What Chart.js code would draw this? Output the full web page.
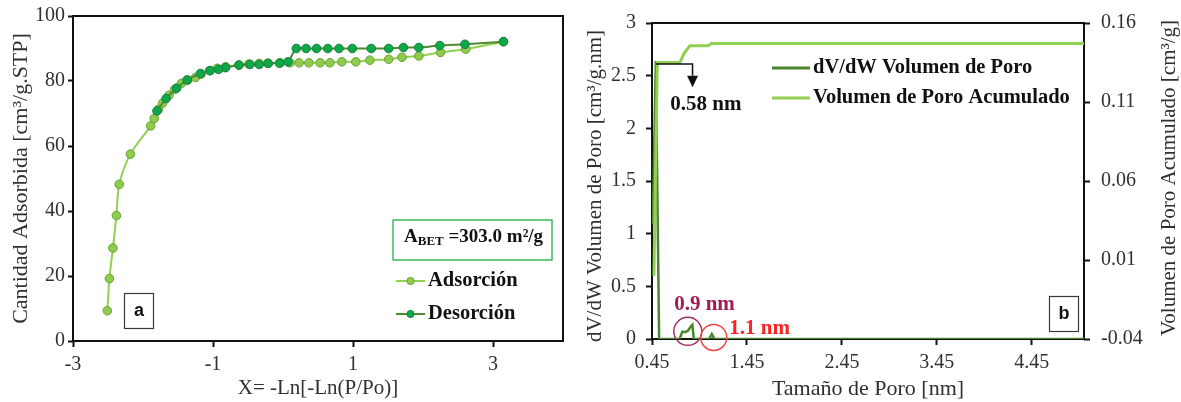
<!DOCTYPE html>
<html>
<head>
<meta charset="utf-8">
<script src="https://cdn.jsdelivr.net/npm/chart.js@4.4.1/dist/chart.umd.min.js"></script>
<style>
  html, body { margin: 0; padding: 0; background: #fff; }
  #wrap { position: relative; width: 1181px; height: 402px; overflow: hidden; }
  #isoWrap { position: absolute; left: 0; top: 0; }
  #psdWrap { position: absolute; left: 580px; top: 0; }
  canvas { display: block; }
</style>
</head>
<body>
<div id="wrap">
  <div id="isoWrap"><canvas id="iso" width="580" height="402"></canvas></div>
  <div id="psdWrap"><canvas id="psd" width="601" height="402"></canvas></div>
</div>
<script>
// ---- (a) N2 isotherm, X = -Ln[-Ln(P/Po)] ----
const adsX = [-2.51, -2.48, -2.43, -2.38, -2.34, -2.18, -1.89, -1.84, -1.78, -1.72, -1.63, -1.55, -1.45,
              -1.36, -1.25, -1.17, -1.05, -0.94, -0.82, -0.63, -0.49, -0.34, -0.22, -0.04, 0.10, 0.23,
              0.37, 0.53, 0.67, 0.84, 1.04, 1.24, 1.51, 1.70, 1.94, 2.25, 2.61, 3.15];
const adsY = [9.3, 19.2, 28.6, 38.6, 48.2, 57.5, 66.2, 68.5, 71.3, 73.2, 75.6, 77.4, 79.3,
              80.3, 81.1, 82.1, 83.2, 83.9, 84.4, 84.9, 85.2, 85.4, 85.5, 85.6, 85.6, 85.6,
              85.6, 85.6, 85.6, 85.9, 85.9, 86.4, 86.7, 87.3, 87.7, 88.8, 89.8, 92.1];
const desX = [3.15, 2.60, 2.24, 1.94, 1.72, 1.51, 1.26, 0.99, 0.80, 0.64, 0.48, 0.33, 0.19, 0.07,
              -0.05, -0.21, -0.34, -0.47, -0.63, -0.82, -0.92, -1.04, -1.18, -1.37, -1.52, -1.67, -1.80];
const desY = [92.1, 91.3, 90.9, 90.3, 90.3, 90.0, 90.0, 90.0, 90.0, 90.0, 90.0, 90.0, 90.0, 85.9,
              85.5, 85.4, 85.1, 85.1, 84.9, 84.1, 83.6, 83.2, 82.3, 80.3, 77.8, 74.6, 70.8];
const isoXTicks = [-3, -1, 1, 3];
const isoYTicks = [0, 20, 40, 60, 80, 100];
const betArea = '303.0';

// ---- (b) pore size distribution ----
const dvX = [0.46, 0.462, 0.49, 0.525, 0.74, 0.77, 0.80, 0.83, 0.86, 0.875, 0.89, 1.05, 1.08, 1.11, 5.0];
const dvY = [1.09, 1.28, 2.64, 0.0, 0.0, 0.07, 0.065, 0.08, 0.12, 0.134, 0.0, 0.0, 0.047, 0.0, 0.0];
const cumX = [0.47, 0.506, 0.744, 0.79, 0.849, 1.04, 1.077, 5.0];
const cumY = [0.0, 0.135, 0.135, 0.141, 0.1456, 0.1456, 0.147, 0.147];
const psdXTicks = [0.45, 1.45, 2.45, 3.45, 4.45];
const psdYTicks = [0, 0.5, 1, 1.5, 2, 2.5, 3];
const psdY2Ticks = [-0.04, 0.01, 0.06, 0.11, 0.16];

const SERIF = '"Liberation Serif", "Times New Roman", serif';
const SANS = '"Liberation Sans", Arial, sans-serif';
const TEXT = '#303030';

const pts = (xs, ys) => xs.map((x, i) => ({ x, y: ys[i] }));

function txt(ctx, s, x, y, o) {
  ctx.save();
  ctx.translate(x, y);
  if (o.rot) ctx.rotate(o.rot);
  ctx.font = o.font;
  ctx.fillStyle = o.color || TEXT;
  ctx.textAlign = o.align || 'center';
  ctx.textBaseline = o.base || 'middle';
  ctx.fillText(s, 0, 0);
  ctx.restore();
}

function labelBox(ctx, s, x, y, w, h) {
  ctx.save();
  ctx.fillStyle = '#fff';
  ctx.fillRect(x, y, w, h);
  ctx.strokeStyle = '#3a3a3a';
  ctx.lineWidth = 1.2;
  ctx.strokeRect(x + 0.5, y + 0.5, w, h);
  ctx.restore();
  txt(ctx, s, x + w / 2 + 0.5, y + h / 2 + 1, { font: 'bold 18px ' + SANS, color: '#111' });
}

// black frame around the plot area, under the data
const framePlugin = {
  id: 'frame',
  beforeDatasetsDraw(chart) {
    const { ctx, chartArea: a } = chart;
    ctx.save();
    ctx.strokeStyle = '#111';
    ctx.lineWidth = 2;
    ctx.strokeRect(a.left, a.top, a.right - a.left, a.bottom - a.top);
    ctx.restore();
  }
};

function fixedTicks(values, pad, fmt) {
  return {
    afterBuildTicks(scale) { scale.ticks = values.map(v => ({ value: v })); },
    ticks: {
      autoSkip: false, maxRotation: 0, color: TEXT, padding: pad,
      font: { family: SERIF, size: 20 },
      callback: fmt || (v => String(v))
    }
  };
}

function axisGrid(len) {
  return { display: true, drawOnChartArea: false, drawTicks: true, tickLength: len, tickWidth: 2, tickColor: '#111' };
}

// ================= chart (a) =================
const isoDecor = {
  id: 'isoDecor',
  afterDraw(chart) {
    const { ctx, chartArea: a } = chart;
    txt(ctx, 'Cantidad Adsorbida [cm³/g.STP]', 21, (a.top + a.bottom) / 2,
        { font: '22px ' + SERIF, rot: -Math.PI / 2 });
    txt(ctx, 'X= -Ln[-Ln(P/Po)]', (a.left + a.right) / 2, 388, { font: '21px ' + SERIF });

    // BET surface area box
    const bx = a.left + 320, by = a.top + 204, bw = 159, bh = 40;
    ctx.save();
    ctx.fillStyle = '#fff';
    ctx.fillRect(bx, by, bw, bh);
    ctx.strokeStyle = '#3CB95A';
    ctx.lineWidth = 1.5;
    ctx.strokeRect(bx, by, bw, bh);
    ctx.fillStyle = '#111';
    ctx.textAlign = 'left';
    ctx.textBaseline = 'alphabetic';
    let x = bx + 11;
    const yb = by + 22;
    ctx.font = 'bold 19px ' + SERIF;
    ctx.fillText('A', x, yb);
    x += ctx.measureText('A').width;
    ctx.font = 'bold 13px ' + SERIF;
    ctx.fillText('BET', x, yb + 3);
    x += ctx.measureText('BET').width;
    ctx.font = 'bold 19px ' + SERIF;
    ctx.fillText(' =' + betArea + ' m²/g', x, yb);
    ctx.restore();

    // legend
    const rowsY = [a.top + 265, a.top + 298];
    [0, 1].forEach((di, k) => {
      const ds = chart.data.datasets[di];
      const y = rowsY[k];
      const x0 = a.left + 323, x1 = a.left + 352;
      ctx.save();
      ctx.strokeStyle = ds.borderColor;
      ctx.lineWidth = 2;
      ctx.beginPath(); ctx.moveTo(x0, y); ctx.lineTo(x1, y); ctx.stroke();
      ctx.beginPath(); ctx.arc((x0 + x1) / 2, y, 3.6, 0, Math.PI * 2);
      ctx.fillStyle = ds.pointBackgroundColor; ctx.fill();
      ctx.strokeStyle = ds.pointBorderColor; ctx.lineWidth = 1; ctx.stroke();
      ctx.restore();
      txt(ctx, ds.label, a.left + 355, y, { font: 'bold 20.5px ' + SERIF, align: 'left', color: '#111' });
    });

    labelBox(ctx, 'a', a.left + 51, a.top + 277, 29, 35);
  }
};

new Chart(document.getElementById('iso'), {
  type: 'line',
  data: {
    datasets: [
      {
        label: 'Adsorción', data: pts(adsX, adsY), order: 1,
        borderColor: '#92D050', borderWidth: 2, tension: 0.3,
        pointRadius: 4.3, pointBackgroundColor: '#8FCB4C', pointBorderColor: '#68A338', pointBorderWidth: 1
      },
      {
        label: 'Desorción', data: pts(desX, desY), order: 0,
        borderColor: '#4E8A2E', borderWidth: 2, tension: 0.3,
        pointRadius: 4.3, pointBackgroundColor: '#0DA84A', pointBorderColor: '#1A7F38', pointBorderWidth: 1
      }
    ]
  },
  options: {
    responsive: false, animation: false, events: [],
    layout: { padding: { left: 0, top: 16, right: 17, bottom: 0 } },
    plugins: { legend: { display: false }, tooltip: { enabled: false } },
    scales: {
      x: Object.assign({
        type: 'linear', min: -3, max: 4,
        grid: axisGrid(6), border: { display: false },
        afterFit(s) { s.height = 61; }
      }, fixedTicks(isoXTicks, 6)),
      y: Object.assign({
        type: 'linear', min: 0, max: 100,
        grid: axisGrid(5), border: { display: false },
        afterFit(s) { s.width = 73; }
      }, fixedTicks(isoYTicks, 3))
    }
  },
  plugins: [framePlugin, isoDecor]
});

// ================= chart (b) =================
const psdDecor = {
  id: 'psdDecor',
  afterDraw(chart) {
    const { ctx, chartArea: a, scales } = chart;
    const px = v => scales.x.getPixelForValue(v);
    const py = v => scales.y.getPixelForValue(v);

    txt(ctx, 'dV/dW Volumen de Poro [cm³/g.nm]', 15, 186, { font: '21px ' + SERIF, rot: -Math.PI / 2 });
    txt(ctx, 'Volumen de Poro Acumulado [cm³/g]', 589, 178, { font: '21px ' + SERIF, rot: -Math.PI / 2 });
    txt(ctx, 'Tamaño de Poro [nm]', (a.left + a.right) / 2, 389, { font: '22px ' + SERIF });

    // legend
    const rowsY = [68, 98];
    chart.data.datasets.forEach((ds, k) => {
      const y = rowsY[k];
      ctx.save();
      ctx.strokeStyle = ds.borderColor;
      ctx.lineWidth = 3;
      ctx.beginPath(); ctx.moveTo(a.left + 120, y); ctx.lineTo(a.left + 158, y); ctx.stroke();
      ctx.restore();
      txt(ctx, ds.label, a.left + 161, y, { font: 'bold 20.5px ' + SERIF, align: 'left', color: '#111' });
    });

    // micropore marker arrow
    ctx.save();
    ctx.strokeStyle = '#111'; ctx.fillStyle = '#111'; ctx.lineWidth = 1.5;
    const ax = px(0.877);
    ctx.beginPath();
    ctx.moveTo(px(0.492), py(2.61)); ctx.lineTo(ax, py(2.61)); ctx.lineTo(ax, py(2.5));
    ctx.stroke();
    ctx.beginPath();
    ctx.moveTo(ax - 5.5, py(2.5)); ctx.lineTo(ax + 5.5, py(2.5)); ctx.lineTo(ax, py(2.39));
    ctx.closePath(); ctx.fill();
    ctx.restore();
    txt(ctx, '0.58 nm', px(1.017), py(2.23), { font: 'bold 21px ' + SERIF, color: '#111' });

    // peak circles and labels
    ctx.save();
    ctx.lineWidth = 1.5;
    ctx.strokeStyle = '#A23062';
    ctx.beginPath(); ctx.arc(px(0.827), py(0.073), 14, 0, Math.PI * 2); ctx.stroke();
    ctx.strokeStyle = '#F04848';
    ctx.beginPath(); ctx.arc(px(1.10), py(0.015), 13, 0, Math.PI * 2); ctx.stroke();
    ctx.restore();
    txt(ctx, '0.9 nm', px(1.003), py(0.33), { font: 'bold 21px ' + SERIF, color: '#9E1C50' });
    txt(ctx, '1.1 nm', px(1.584), py(0.097), { font: 'bold 21px ' + SERIF, color: '#FF2222' });

    labelBox(ctx, 'b', a.right - 35, a.top + 273, 29, 35);
  }
};

new Chart(document.getElementById('psd'), {
  type: 'line',
  data: {
    datasets: [
      {
        label: 'dV/dW Volumen de Poro', data: pts(dvX, dvY), yAxisID: 'y', order: 1,
        borderColor: '#4A872C', borderWidth: 2.5, pointRadius: 0, tension: 0
      },
      {
        label: 'Volumen de Poro Acumulado', data: pts(cumX, cumY), yAxisID: 'y2', order: 0,
        borderColor: '#92D050', borderWidth: 3, pointRadius: 0, tension: 0
      }
    ]
  },
  options: {
    responsive: false, animation: false, events: [],
    layout: { padding: { left: 0, top: 20, right: 0, bottom: 0 } },
    plugins: { legend: { display: false }, tooltip: { enabled: false } },
    scales: {
      x: Object.assign({
        type: 'linear', min: 0.45, max: 5.0,
        grid: axisGrid(6), border: { display: false },
        afterFit(s) { s.height = 63; }
      }, fixedTicks(psdXTicks, 6, v => v.toFixed(2))),
      y: Object.assign({
        type: 'linear', position: 'left', min: 0, max: 3,
        grid: axisGrid(6), border: { display: false },
        afterFit(s) { s.width = 72; }
      }, fixedTicks(psdYTicks, 10)),
      y2: Object.assign({
        type: 'linear', position: 'right', min: -0.04, max: 0.16,
        grid: axisGrid(6), border: { display: false },
        afterFit(s) { s.width = 97; }
      }, fixedTicks(psdY2Ticks, 11, v => v.toFixed(2)))
    }
  },
  plugins: [framePlugin, psdDecor]
});
</script>
</body>
</html>
